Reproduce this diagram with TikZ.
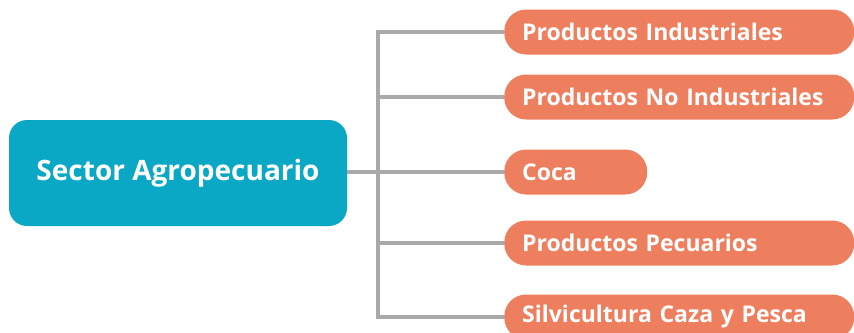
\documentclass[tikz,border=0pt]{standalone}
\usepackage{fontspec}
\setmainfont{Open Sans}
\usetikzlibrary{positioning}

\definecolor{sectorteal}{HTML}{0AA8C4}
\definecolor{itemorange}{HTML}{EE7F5E}
\definecolor{linkgray}{HTML}{A9A9A9}

\begin{document}
\begin{tikzpicture}[x=1pt, y=-1pt,
    sector/.style={fill=sectorteal, rounded corners=18pt, minimum width=338pt, minimum height=106pt,
      text=white, font=\fontsize{28}{32}\selectfont\bfseries},
    item/.style={fill=itemorange, rounded corners=22pt, minimum height=45pt, text width=314pt,
      inner xsep=18pt, align=left, anchor=west, text=white, font=\fontsize{23}{26}\selectfont\bfseries},
    link/.style={draw=linkgray, line width=4pt}]
  \useasboundingbox (0,0) rectangle (854,332);
  \clip (0,0) rectangle (854,332);

  \node[sector] (sector) at (178,173) {Sector Agropecuario};

  \node[item] (ind)   at (504,32)  {Productos Industriales};
  \node[item] (noind) at (504,97)  {Productos No Industriales};
  \node[item, text width=107pt] (coca) at (504,172) {Coca};
  \node[item] (pec)   at (504,243) {Productos Pecuarios};
  \node[item] (silv)  at (504,317) {Silvicultura Caza y Pesca};

  \coordinate (trunk) at (378,172);

  % connectors
  \draw[link] (sector.east |- trunk) -- (coca.west);
  \draw[link] (ind.west) -| (trunk) |- (silv.west);
  \draw[link] (trunk |- noind.west) -- (noind.west);
  \draw[link] (trunk |- pec.west) -- (pec.west);
\end{tikzpicture}
\end{document}
